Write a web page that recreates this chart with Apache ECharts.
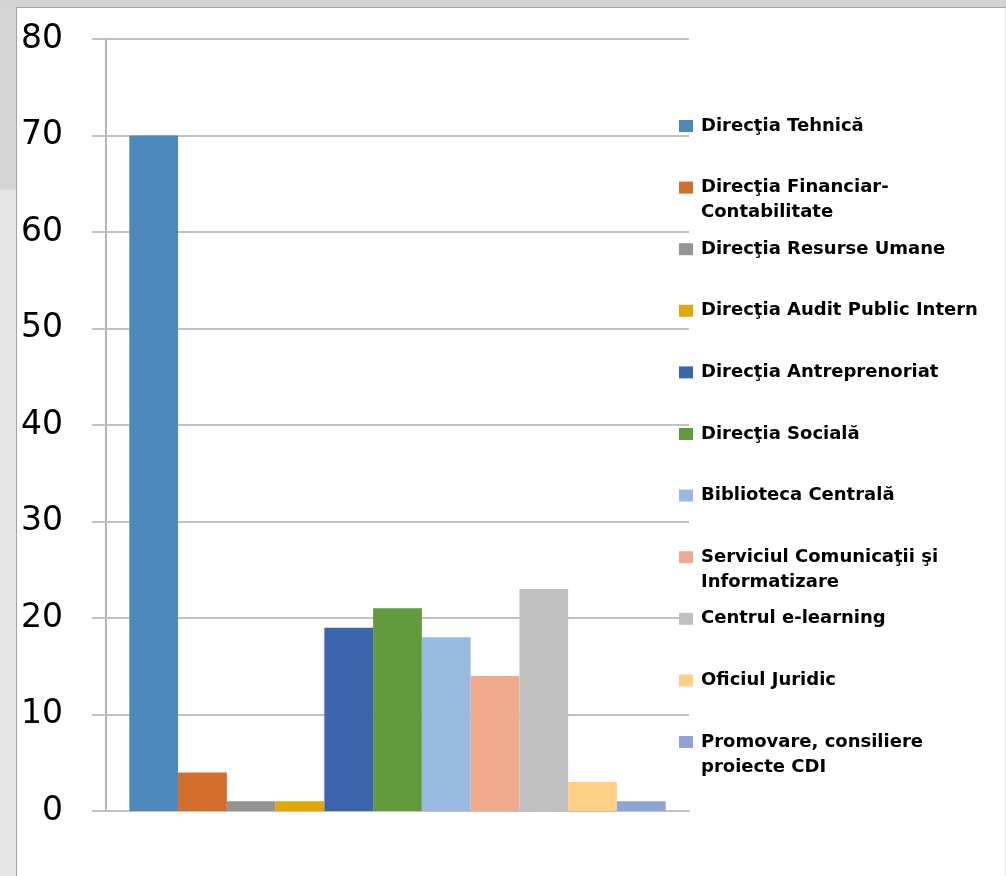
<!DOCTYPE html>
<html>
<head>
<meta charset="utf-8">
<script src="https://cdn.jsdelivr.net/npm/echarts@6/dist/echarts.min.js"></script>
<style>
  html, body { margin: 0; padding: 0; width: 1006px; height: 876px; overflow: hidden; }
  body { background: linear-gradient(#d5d5d5 0, #d5d5d5 190px, #e6e6e6 190px, #e6e6e6 876px); }
  #panel { position: absolute; left: 16px; top: 7px; width: 990px; height: 869px; box-sizing: border-box;
           background: #fff; border-left: 1px solid #a3a3a3; border-top: 1px solid #a3a3a3; border-right: 1px solid #e3e3e3; }
  #topbar { position: absolute; left: 0; top: 0; width: 1006px; height: 7px; background: #d3d3d3; }
  #chart { position: absolute; left: 0; top: 0; width: 1006px; height: 876px; }
</style>
</head>
<body>
<div id="topbar"></div>
<div id="panel"></div>
<div id="chart"></div>
<script>
const categories = [''];
const seriesNames = [
  'Direcţia Tehnică',
  'Direcţia Financiar-Contabilitate',
  'Direcţia Resurse Umane',
  'Direcţia Audit Public Intern',
  'Direcţia Antreprenoriat',
  'Direcţia Socială',
  'Biblioteca Centrală',
  'Serviciul Comunicaţii şi Informatizare',
  'Centrul e-learning',
  'Oficiul Juridic',
  'Promovare, consiliere proiecte CDI'
];
const legendLabels = [
  'Direcţia Tehnică',
  'Direcţia Financiar-\nContabilitate',
  'Direcţia Resurse Umane',
  'Direcţia Audit Public Intern',
  'Direcţia Antreprenoriat',
  'Direcţia Socială',
  'Biblioteca Centrală',
  'Serviciul Comunicaţii şi\nInformatizare',
  'Centrul e-learning',
  'Oficiul Juridic',
  'Promovare, consiliere\nproiecte CDI'
];
const seriesValues = [70, 4, 1, 1, 19, 21, 18, 14, 23, 3, 1];
const seriesColors = ['#4e89bd', '#d36d2b', '#949494', '#e1a900', '#3c65ad', '#629a3e',
                      '#99bae0', '#f0a98b', '#c0c0c0', '#fed086', '#8fa3d4'];
const yTicks = { min: 0, max: 80, interval: 10 };

const chart = echarts.init(document.getElementById('chart'), null, { renderer: 'canvas' });

const LEGEND_Y0 = 124.5, LEGEND_STEP = 61.6, LINE_H = 25;
const legends = seriesNames.map((name, i) => {
  const wrapped = legendLabels[i].indexOf('\n') >= 0;
  const iconY = LEGEND_Y0 + LEGEND_STEP * i;
  return {
    data: [name],
    orient: 'vertical',
    left: 679,
    top: (wrapped ? iconY - LINE_H - 9 : iconY - 9) - 2,
    padding: 0,
    itemWidth: 14,
    itemHeight: 12,
    icon: 'rect',
    selectedMode: false,
    formatter: () => wrapped ? ' \n' + legendLabels[i] : legendLabels[i],
    textStyle: { fontFamily: 'DejaVu Sans', fontWeight: 'bold', fontSize: 18, color: '#000',
                 lineHeight: LINE_H, padding: [0, 0, 0, 3] }
  };
});

chart.setOption({
  animation: false,
  backgroundColor: 'transparent',
  color: seriesColors,
  grid: { left: 106, right: 317, top: 39, bottom: 65, containLabel: false },
  legend: legends,
  xAxis: {
    type: 'category',
    data: categories,
    axisLine: { show: true, lineStyle: { color: '#c2c2c2', width: 2 } },
    axisTick: { show: false },
    axisLabel: { show: false }
  },
  yAxis: {
    type: 'value',
    min: yTicks.min, max: yTicks.max, interval: yTicks.interval,
    axisLine: { show: true, lineStyle: { color: '#b5b5b5', width: 2 } },
    axisTick: { show: true, length: 14, lineStyle: { color: '#c2c2c2', width: 2 } },
    axisLabel: { margin: 43, fontFamily: 'DejaVu Sans', fontSize: 33, color: '#000' },
    splitLine: { show: true, lineStyle: { color: '#c2c2c2', width: 2 } }
  },
  series: seriesNames.map((name, i) => ({
    name: name,
    type: 'bar',
    data: [seriesValues[i]],
    barGap: '0%',
    barCategoryGap: '8%',
    itemStyle: { color: seriesColors[i] }
  }))
});
</script>
</body>
</html>
